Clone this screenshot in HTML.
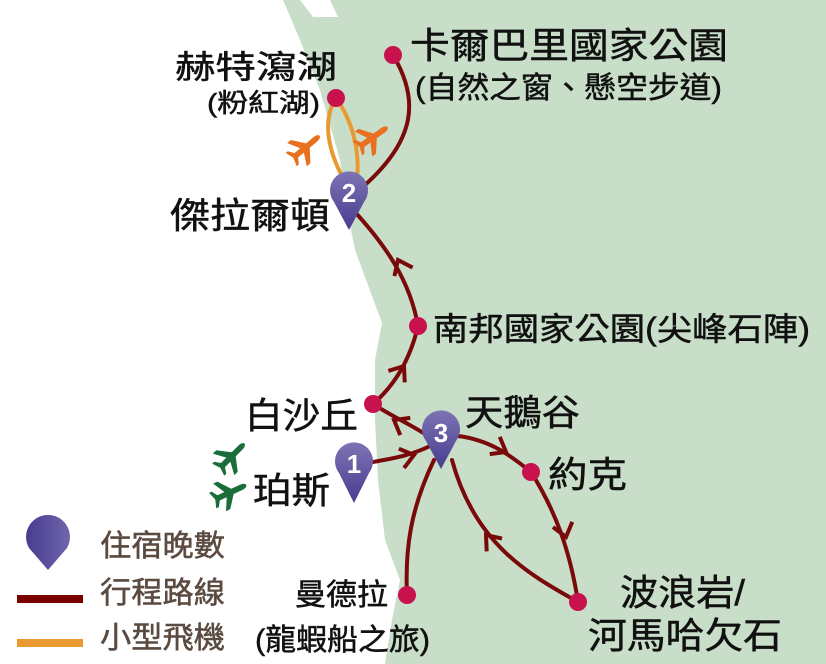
<!DOCTYPE html>
<html><head><meta charset="utf-8"><style>
html,body{margin:0;padding:0;background:#fff;}
svg{display:block;}
text{font-family:"Liberation Sans","Noto Sans CJK TC",sans-serif;fill:#111;stroke:#111;stroke-width:0.5;}
.lg{fill:#5a4a40;stroke:#5a4a40;}
</style></head><body>
<svg width="826" height="664" viewBox="0 0 826 664" xmlns="http://www.w3.org/2000/svg">
<defs>
<linearGradient id="pg" x1="0" y1="0" x2="0" y2="1"><stop offset="0" stop-color="#7d74b4"/><stop offset="1" stop-color="#473c8f"/></linearGradient>
<linearGradient id="pg2" x1="0" y1="0" x2="1" y2="0"><stop offset="0" stop-color="#483c90"/><stop offset="1" stop-color="#6f66ac"/></linearGradient>
<path id="plane" d="M20,0 C20,-2 17,-3 14,-3 L4,-3 L-6,-16 L-11,-16 L-4,-3 L-12,-3 L-16,-9 L-19,-9 L-16,0 L-19,9 L-16,9 L-12,3 L-4,3 L-11,16 L-6,16 L4,3 L14,3 C17,3 20,2 20,0 Z"/>
</defs>
<path d="M283,0 L826,0 L826,664 L385,664 L392,620 L400,580 L385,540 L378,480 L375,420 L375,360 L382,323 L355,250 L345,200 L340,160 L320,90 L300,40 Z" fill="#c8dec9"/>
<path d="M300,0 L330,0 L338,17 L313,17 Z" fill="#fff"/>
<g fill="none" stroke="#e89a30" stroke-width="4">
<path d="M336,98 C322,120 328,150 343,178"/>
<path d="M336,98 C352,120 360,150 357,178"/>
</g>
<g fill="none" stroke="#7a0a0a" stroke-width="4" stroke-linecap="round">
<path d="M393,55 C420,100 415,140 365,185"/>
<path d="M355,212 C385,245 410,280 418,326"/>
<path d="M418,326 C410,360 395,385 373,404"/>
<path d="M373,404 C395,418 412,425 428,436"/>
<path d="M373,462 C395,458 412,455 430,446"/>
<path d="M458,436 C490,440 510,455 531,472"/>
<path d="M531,472 C555,510 570,550 578,602"/>
<path d="M578,602 C530,575 475,545 452,460"/>
<path d="M434,460 C410,510 405,550 407,595"/>
</g>
<g fill="none" stroke="#7a0a0a" stroke-width="4">
<path transform="translate(398,260) rotate(-115)" d="M-13,-10 L0,0 L-13,10"/>
<path transform="translate(404,366) rotate(-55)" d="M-13,-10 L0,0 L-13,10"/>
<path transform="translate(394,420) rotate(-150)" d="M-13,-10 L0,0 L-13,10"/>
<path transform="translate(414,455) rotate(-15)" d="M-13,-10 L0,0 L-13,10"/>
<path transform="translate(506,452) rotate(30)" d="M-13,-10 L0,0 L-13,10"/>
<path transform="translate(566,537) rotate(75)" d="M-13,-10 L0,0 L-13,10"/>
<path transform="translate(486,535) rotate(-130)" d="M-13,-10 L0,0 L-13,10"/>
</g>
<g fill="#c8124e">
<circle cx="336" cy="98" r="9"/><circle cx="393" cy="55" r="9"/><circle cx="418" cy="326" r="9"/>
<circle cx="373" cy="404" r="9"/><circle cx="531" cy="472" r="9"/><circle cx="578" cy="602" r="9"/><circle cx="407" cy="595" r="9"/>
</g>
<g fill="url(#pg)">
<path d="M354,503 L339,473 A19,19 0 1 1 369,473 Z"/>
<path d="M349,230 L334,202 A19,19 0 1 1 364,202 Z"/>
<path d="M441,469 L426,441 A19,19 0 1 1 456,441 Z"/>
</g>
<path d="M48,570 L29,548 A22,22 0 1 1 67,548 Z" fill="url(#pg2)"/>
<g font-weight="bold" font-size="26" text-anchor="middle">
<text x="354" y="473" style="fill:#fff;stroke:none">1</text>
<text x="349" y="202" style="fill:#fff;stroke:none">2</text>
<text x="441" y="442" style="fill:#fff;stroke:none">3</text>
</g>
<use href="#plane" fill="#e8701e" transform="translate(305,148) rotate(-40) scale(0.95)"/>
<use href="#plane" fill="#e8701e" transform="translate(372,138) rotate(-35) scale(0.95)"/>
<use href="#plane" fill="#1b6e3a" transform="translate(231,457) rotate(-45) scale(0.95)"/>
<use href="#plane" fill="#1b6e3a" transform="translate(229,493) rotate(-25) scale(0.95)"/>
<text x="175" y="78" font-size="32" textLength="162" lengthAdjust="spacingAndGlyphs">赫特瀉湖</text>
<text x="207" y="112" font-size="26" textLength="113" lengthAdjust="spacingAndGlyphs">(粉紅湖)</text>
<text x="410" y="58" font-size="36" textLength="318" lengthAdjust="spacingAndGlyphs">卡爾巴里國家公園</text>
<text x="415" y="98" font-size="30" textLength="307" lengthAdjust="spacingAndGlyphs">(自然之窗、懸空步道)</text>
<text x="170" y="228" font-size="36" textLength="160" lengthAdjust="spacingAndGlyphs">傑拉爾頓</text>
<text x="433" y="340" font-size="32" textLength="377" lengthAdjust="spacingAndGlyphs">南邦國家公園(尖峰石陣)</text>
<text x="245" y="428" font-size="36" textLength="113" lengthAdjust="spacingAndGlyphs">白沙丘</text>
<text x="465" y="425" font-size="36" textLength="115" lengthAdjust="spacingAndGlyphs">天鵝谷</text>
<text x="548" y="487" font-size="36" textLength="79" lengthAdjust="spacingAndGlyphs">約克</text>
<text x="253" y="503" font-size="36" textLength="77" lengthAdjust="spacingAndGlyphs">珀斯</text>
<text x="295" y="605" font-size="30" textLength="93" lengthAdjust="spacingAndGlyphs">曼德拉</text>
<text x="255" y="650" font-size="30" textLength="175" lengthAdjust="spacingAndGlyphs">(龍蝦船之旅)</text>
<text x="620" y="605" font-size="36" textLength="125" lengthAdjust="spacingAndGlyphs">波浪岩/</text>
<text x="588" y="648" font-size="36" textLength="194" lengthAdjust="spacingAndGlyphs">河馬哈欠石</text>
<text class="lg" x="100" y="556" font-size="30" textLength="125" lengthAdjust="spacingAndGlyphs">住宿晚數</text>
<text class="lg" x="100" y="603" font-size="30" textLength="125" lengthAdjust="spacingAndGlyphs">行程路線</text>
<text class="lg" x="100" y="648" font-size="30" textLength="125" lengthAdjust="spacingAndGlyphs">小型飛機</text>
<rect x="17" y="595" width="66" height="8" fill="#7a0000"/>
<rect x="17" y="639" width="66" height="8" fill="#e89a30"/>
</svg>
</body></html>
